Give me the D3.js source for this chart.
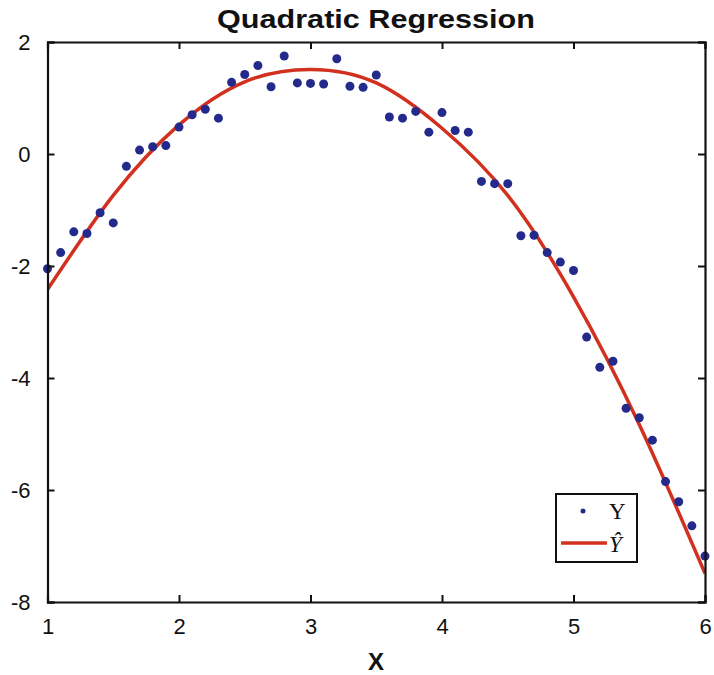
<!DOCTYPE html>
<html><head><meta charset="utf-8">
<script src="https://cdn.jsdelivr.net/npm/d3@7"></script>
<style>html,body{margin:0;padding:0;background:#fff;}</style>
</head><body>
<svg id="chart" width="714" height="675"></svg>
<script>
const xValues = [1.0,1.1,1.2,1.3,1.4,1.5,1.6,1.7,1.8,1.9,2.0,2.1,2.2,2.3,2.4,2.5,2.6,2.7,2.8,2.9,3.0,3.1,3.2,3.3,3.4,3.5,3.6,3.7,3.8,3.9,4.0,4.1,4.2,4.3,4.4,4.5,4.6,4.7,4.8,4.9,5.0,5.1,5.2,5.3,5.4,5.5,5.6,5.7,5.8,5.9,6.0];
const yValues = [-2.05,-1.76,-1.39,-1.42,-1.05,-1.23,-0.22,0.07,0.13,0.15,0.48,0.70,0.80,0.64,1.28,1.42,1.58,1.20,1.75,1.27,1.26,1.25,1.70,1.21,1.19,1.41,0.66,0.64,0.76,0.39,0.74,0.42,0.39,-0.49,-0.53,-0.53,-1.46,-1.45,-1.76,-1.93,-2.08,-3.27,-3.81,-3.70,-4.54,-4.71,-5.11,-5.85,-6.21,-6.64,-7.18];
// fitted curve (Y-hat)
const fitX = [1.0,1.5,2.0,2.5,3.0,3.5,4.0,4.5,5.0,5.5,6.0];
const fitY = [-2.42,-0.74,0.52,1.29,1.51,1.27,0.46,-0.74,-2.55,-4.83,-7.49];
const xTicks = [1,2,3,4,5,6];
const yTicks = [-8,-6,-4,-2,0,2];
const titleText = "Quadratic Regression";
const xLabel = "X";

const svg = d3.select("#chart");
const L=47.5, R=705, T=42, B=602;
const x = d3.scaleLinear().domain([1,6]).range([L,R]);
const y = d3.scaleLinear().domain([-8,2]).range([B,T]);

svg.append("clipPath").attr("id","clip").append("rect")
  .attr("x",L).attr("y",T).attr("width",R-L).attr("height",B-T);

// fit curve
svg.append("path")
  .datum(fitX.map((v,i)=>[v,fitY[i]]))
  .attr("clip-path","url(#clip)")
  .attr("fill","none").attr("stroke","#d2311f").attr("stroke-width",3.5)
  .attr("d", d3.line().curve(d3.curveNatural).x(d=>x(d[0])).y(d=>y(d[1])));

// points
svg.append("g").selectAll("circle").data(xValues).join("circle")
  .attr("cx",(d)=>x(d)).attr("cy",(d,i)=>y(yValues[i])).attr("r",4.5)
  .attr("fill","#232a8c");

// axes
const fontAx = "'Liberation Sans', Arial, sans-serif";
const fmt = d => String(d);
const axB = d3.axisBottom(x).tickValues(xTicks).tickSize(-7).tickPadding(16).tickFormat(fmt);
const axT = d3.axisTop(x).tickValues(xTicks).tickSize(-7).tickFormat("");
const axL = d3.axisLeft(y).tickValues(yTicks).tickSize(-7).tickPadding(17).tickFormat(fmt);
const axR = d3.axisRight(y).tickValues(yTicks).tickSize(-7).tickFormat("");
[[axB,`translate(0,${B})`],[axT,`translate(0,${T})`],[axL,`translate(${L},0)`],[axR,`translate(${R},0)`]].forEach(([a,t])=>{
  const g = svg.append("g").attr("transform",t).call(a);
  g.select(".domain").attr("stroke","#111").attr("stroke-width",2.2);
  g.selectAll(".tick line").attr("stroke","#111").attr("stroke-width",2);
  g.selectAll(".tick text").attr("font-family",fontAx).attr("font-size",22).attr("fill","#111");
});

// title
svg.append("text").attr("x",376).attr("y",28).attr("text-anchor","middle")
  .attr("font-family",fontAx).attr("font-weight","bold").attr("font-size",26)
  .attr("textLength",318).attr("lengthAdjust","spacingAndGlyphs")
  .attr("fill","#111").text(titleText);
// x label
svg.append("text").attr("x",376).attr("y",670).attr("text-anchor","middle")
  .attr("font-family",fontAx).attr("font-weight","bold").attr("font-size",24)
  .attr("fill","#111").text(xLabel);

// legend
const lg = svg.append("g");
lg.append("rect").attr("x",556).attr("y",494).attr("width",81).attr("height",68)
  .attr("fill","#fff").attr("stroke","#111").attr("stroke-width",2);
lg.append("circle").attr("cx",583).attr("cy",511).attr("r",2.5).attr("fill","#232a8c");
lg.append("text").attr("x",609).attr("y",519).attr("font-family","'Liberation Serif', serif")
  .attr("font-size",23).attr("fill","#111").text("Y");
lg.append("line").attr("x1",561).attr("x2",607).attr("y1",543).attr("y2",543)
  .attr("stroke","#d2311f").attr("stroke-width",3.5);
lg.append("text").attr("x",609).attr("y",552).attr("font-family","'Liberation Serif', serif")
  .attr("font-style","italic").attr("font-size",23).attr("fill","#111").text("Ŷ");
</script>
</body></html>
